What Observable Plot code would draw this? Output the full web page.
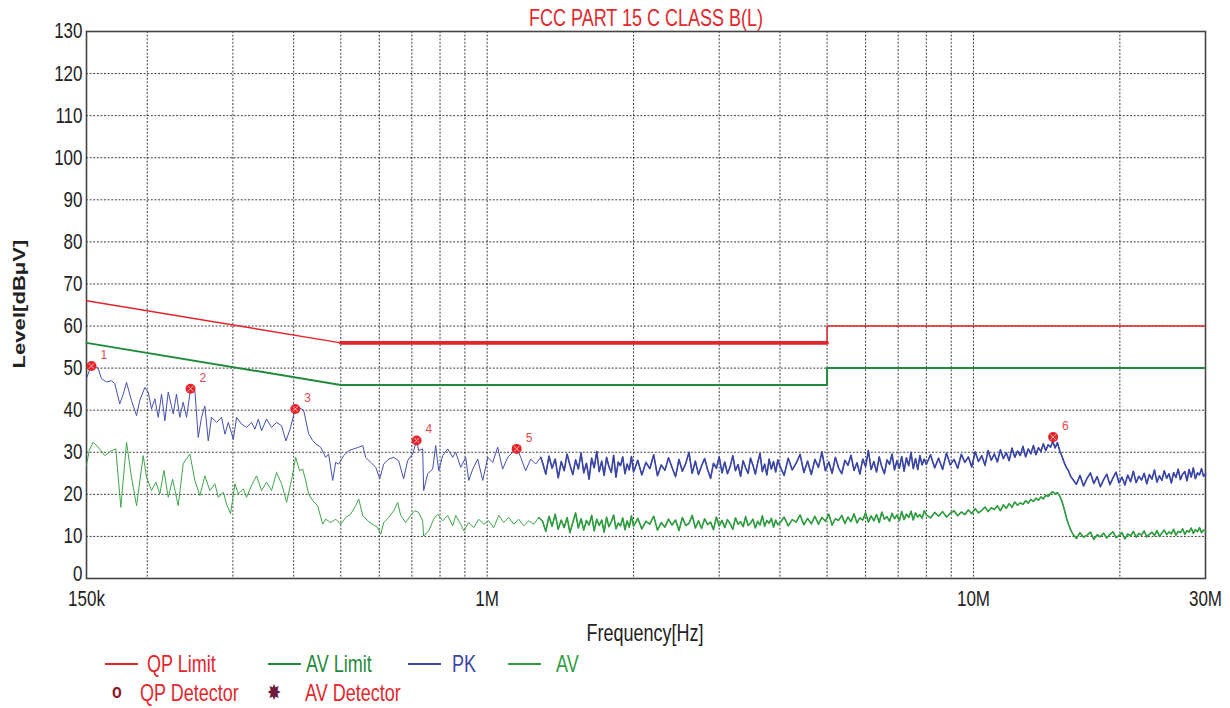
<!DOCTYPE html>
<html><head><meta charset="utf-8">
<script src="https://cdn.jsdelivr.net/npm/d3@7"></script>
<script src="https://cdn.jsdelivr.net/npm/@observablehq/plot@0.6"></script>
<style>
body{margin:0;background:#fff;}
#wrap{position:relative;width:1230px;height:708px;font-family:"Liberation Sans",Arial,sans-serif;overflow:hidden;}
.t{position:absolute;white-space:nowrap;font-size:18px;line-height:1;transform:translateY(-50%) scaleY(1.3);transform-origin:left center;}
.c{transform:translate(-50%,-50%) scaleY(1.3);transform-origin:center;}
.ln{position:absolute;height:2px;}
</style></head><body><div id="wrap"></div>
<script>
// ---- axis / tick data ----
const xTickValues = [150, 1000, 10000, 30000];          // kHz
const xTickLabels = ["150k", "1M", "10M", "30M"];
const yTickValues = [0,10,20,30,40,50,60,70,80,90,100,110,120,130];
const gridFreqs = [200,300,400,500,600,700,800,900,1000,2000,3000,4000,5000,6000,7000,8000,9000,10000,20000];
const gridLevels = [10,20,30,40,50,60,70,80,90,100,110,120];

// ---- limits [kHz, dBuV] ----
const qpLimit = [[150,66],[500,56],[5000,56],[5000,60],[30000,60]];
const avLimit = [[150,56],[500,46],[5000,46],[5000,50],[30000,50]];

// ---- detector markers ----
const markerFreqs = [153.6, 245.5, 403, 716, 1150, 14580];
const markerLevels = [50.5, 45.1, 40.3, 32.8, 30.8, 33.6];
const markerLabels = ["1","2","3","4","5","6"];

// ---- PK trace, low band (read point by point) ----
const pkLow = [[150,47.5],[153.6,51],[158.5,50],[161,47.5],[164.9,46.7],[168.9,47],[171.5,46.3],[175.6,41.5],[178.5,43.8],[181.3,46.6],[185.6,42.3],[190.1,38.7],[193,42.3],[197.7,45.4],[200.9,44.3],[204.1,40.3],[207.3,42.7],[210.7,38.3],[214,43.8],[217.4,37.5],[220.9,44.3],[226.2,39.1],[229.7,43.8],[233.3,38.3],[237.1,41.9],[240.9,38.3],[245.5,45],[250.6,44.6],[254.6,33.5],[258.6,38.3],[262.7,41],[267,32.7],[271.2,38.3],[277.7,37.1],[284.3,38.3],[288.9,34.3],[293.6,37.1],[300.6,33.1],[305.3,38.3],[312.6,36.7],[320,35.9],[327.7,37.1],[333,35.5],[338.4,37.9],[343.6,35.1],[351.9,37.9],[360.3,35.9],[368.9,37.1],[377.8,36.3],[385.6,32.7],[393.4,35.5],[403,40.3],[410,40.6],[419.4,40],[429.4,34.4],[437.7,32.8],[443.9,32],[454.6,31.2],[465.5,28.8],[472.1,29.6],[481.2,23.3],[488.1,27.6],[495.1,27.2],[507,29.2],[519.1,30.4],[531.5,30.8],[544.3,31.2],[554.7,31.6],[562.6,28.8],[576.1,27.6],[590,26.4],[601.3,23.7],[612.8,27.2],[627.4,28.4],[642.3,28.8],[657.6,28],[673.2,23.7],[686.2,28],[702.7,29.6],[716.2,32.8],[723,30.4],[736.8,30.8],[740.3,20.9],[754.5,24.9],[772.6,26],[783.7,31.6],[795,25.6],[810.2,29.2],[829.5,30.8],[849.4,28.8],[861.6,30],[882.3,26.4],[903.4,28.8],[916.4,23.3],[934,26],[956.3,28.4],[979.2,23.3],[1003,28.8],[1026.5,27.6],[1051,31.2],[1076,26],[1102,28.8],[1128,30],[1150,31.2],[1172,28.8],[1200,25.6],[1229,28.4],[1258,27.2],[1289,28.8]];

// ---- AV trace, low band ----
const avLow = [[150,26.9],[151.9,30.4],[154.8,32.4],[158.5,31.2],[163.6,29.2],[168.9,30.4],[172.3,30.8],[176.5,16.9],[181.3,32.4],[185.6,24.1],[190.1,17.3],[196.2,29.2],[199.3,24.1],[204.1,20.9],[208.3,22.9],[212.3,20.1],[216.4,25.7],[220.9,19.3],[225.5,23.6],[231.6,17.3],[237.1,27.3],[244.7,29.6],[250.6,23.3],[256.6,19.7],[262.7,24.4],[269,20.9],[275.5,22.5],[280,19.3],[286.7,20.5],[291.1,17.7],[296.7,15.4],[302.9,22.5],[307.8,20.1],[315.2,21.3],[320,19.3],[327.7,22.1],[335.6,24.4],[343.6,20.9],[351.9,22.9],[360.3,20.9],[368.9,25.2],[377.8,22.5],[386.9,18.1],[396.2,23.5],[403.7,28.8],[411.5,25.6],[417.5,26],[423.5,23.3],[429.4,20.1],[437.7,18.5],[448.2,17.3],[458.9,12.9],[465.5,14.1],[476.7,13.3],[488.1,14.1],[499.8,12.9],[511.8,14.5],[524,15.3],[536.6,17.3],[544.3,18.9],[554.7,15],[568,13.7],[581.6,12.9],[595.6,12.1],[604.1,10.5],[612.8,13.3],[627.4,14.5],[642.3,16.1],[654.5,18.1],[663.9,15],[679.7,13.3],[696,15],[709.4,16.1],[723,15.7],[736.8,13.7],[740.3,10.1],[758.1,11.3],[776.3,14.1],[791.3,15.3],[810.2,13.7],[829.5,15],[849.4,12.5],[861.6,15],[882.3,12.9],[895.3,11.3],[916.4,13.3],[938.4,12.1],[960.9,14.1],[983.9,12.9],[1007.6,13.7],[1031.6,12.1],[1056.4,15],[1081.6,13.3],[1107.6,14.5],[1134,12.9],[1161,14.1],[1189,12.5],[1218,13.7],[1247,12.9],[1276,14.5]];

// ---- dense sweep 1.3 MHz - 30 MHz ----
const sweepKHz = [
1300,1320,1340,1360,1380,1400,1420,1440,1460,1480,
1500,1520,1540,1560,1580,1600,1620,1640,1660,1680,
1700,1720,1740,1760,1780,1800,1820,1840,1860,1880,
1900,1920,1940,1960,1980,
2000,2040,2080,2120,2160,2200,2240,2280,2320,2360,
2400,2440,2480,2520,2560,2600,2640,2680,2720,2760,
2800,2840,2880,2920,2960,3000,3040,3080,3120,3160,
3200,3240,3280,3320,3360,3400,3440,3480,3520,3560,
3600,3640,3680,3720,3760,3800,3840,3880,3920,3960,
4000,4080,4160,4240,4320,4400,4480,4560,4640,4720,
4800,4880,4960,5040,5120,5200,5280,5360,5440,5520,
5600,5680,5760,5840,5920,6000,6080,6160,6240,6320,
6400,6480,6560,6640,6720,6800,6880,6960,7040,7120,
7200,7280,7360,7440,7520,7600,7680,7760,7840,7920,
8000,8160,8320,8480,8640,8800,8960,9120,9280,9440,
9600,9760,9920,10080,10240,10400,10560,10720,10880,11040,
11200,11360,11520,11680,11840,12000,12160,12320,12480,12640,
12800,12960,13120,13280,13440,13600,13760,13920,14080,14240,
14400,14560,14720,14880,15040,15200,15360,15520,15680,15840,
16000,16280,16560,16840,17120,17400,17680,17960,18240,18520,
18800,19080,19360,19640,19920,20200,20480,20760,21040,21320,
21600,21880,22160,22440,22720,23000,23280,23560,23840,24120,
24400,24680,24960,25240,25520,25800,26080,26360,26640,26920,
27200,27480,27760,28040,28320,28600,28880,29160,29440,29720,
30000];

const pkSweep = [
27.5,24.8,29.1,26.2,28.4,23.9,27.8,25.6,29.6,26.9,
24.7,28.2,26.0,29.8,25.1,27.4,23.6,28.6,26.3,30.2,
25.4,27.9,24.5,28.8,26.6,25.2,29.3,24.1,27.7,26.8,
28.9,24.9,27.2,25.8,29.0,
25.3,28.1,24.6,27.6,26.1,29.4,24.4,27.0,25.7,28.7,
26.4,24.2,28.3,25.5,27.3,30.0,25.0,27.9,24.7,26.8,
28.5,25.9,23.8,27.4,26.2,28.9,25.1,27.7,24.9,26.6,
29.2,25.6,27.1,24.3,28.0,26.3,25.0,28.6,26.9,24.8,
27.5,29.7,25.4,27.2,24.6,28.4,26.0,27.8,25.3,28.2,
26.7,24.5,28.6,25.8,27.4,29.5,25.2,27.9,24.7,28.3,
26.4,30.1,25.6,27.7,25.0,28.8,26.3,24.9,28.1,26.9,
29.3,25.7,27.5,24.8,28.4,26.6,30.4,25.9,27.8,25.3,
28.9,26.5,24.9,28.2,27.1,29.6,25.8,28.0,26.2,29.0,
25.5,28.7,26.8,30.0,26.1,28.5,25.9,29.2,27.0,28.4,
27.1,29.4,26.3,28.6,25.9,29.8,27.0,28.3,26.2,29.5,
27.6,28.9,26.5,30.1,27.8,29.2,26.9,30.4,28.1,29.6,
27.7,30.6,28.5,29.9,28.0,31.0,28.8,30.3,29.2,31.4,
28.9,30.8,29.6,31.6,29.4,31.1,30.2,32.0,30.4,31.8,
31.2,32.6,31.0,32.3,30.4,29.1,27.6,26.4,25.6,24.3,
23.6,22.4,24.5,22.0,23.8,25.1,22.6,24.2,21.8,23.5,
24.8,22.3,23.9,25.3,22.7,24.1,22.2,24.6,23.0,25.5,
22.8,24.3,23.4,25.0,22.5,24.7,23.6,25.8,22.9,24.4,
23.3,25.6,23.8,24.9,22.7,25.2,24.0,26.0,23.5,24.8,
25.4,23.2,25.9,24.1,26.3,23.7,25.1,24.6,26.1,24.3,
24.8];

const avSweep = [
13.6,11.2,14.8,12.4,15.3,11.7,13.9,12.1,14.5,10.9,
13.3,15.6,12.0,14.2,11.5,13.8,12.7,15.0,11.3,14.1,
12.6,13.9,11.0,14.6,12.3,13.5,15.1,11.8,13.2,12.5,
14.4,11.6,13.7,12.2,14.9,
12.4,14.3,11.8,13.6,12.9,14.8,11.5,13.3,12.2,14.1,
12.7,13.9,11.4,14.5,12.6,13.1,15.0,12.0,13.7,11.9,
14.2,12.8,13.4,11.6,14.6,12.5,13.8,12.1,14.0,13.0,
11.7,14.4,12.9,13.5,12.3,14.7,12.6,13.2,14.1,12.0,
13.6,12.7,14.9,12.4,13.8,13.1,14.3,12.2,13.9,12.8,
13.2,14.6,12.5,14.0,13.4,15.1,12.8,14.3,13.0,14.8,
12.9,14.5,13.6,15.3,12.7,14.2,13.8,15.0,13.1,14.6,
13.5,15.4,13.2,14.4,13.9,15.6,13.4,14.9,13.7,15.2,
13.3,15.8,14.1,14.7,13.6,15.5,14.2,15.1,13.8,15.9,
14.0,15.3,14.5,16.0,13.9,15.6,14.6,15.2,14.3,16.1,
15.1,14.4,15.7,14.8,15.9,14.6,15.5,16.1,14.9,15.8,
15.2,16.3,15.4,16.6,15.6,16.2,17.0,15.9,16.8,16.4,
17.3,16.1,17.5,16.7,17.8,16.9,18.2,17.4,18.0,17.6,
18.5,17.9,18.8,18.3,19.1,18.6,19.4,18.9,19.8,19.5,
20.2,20.6,20.1,20.4,19.6,18.4,16.6,14.5,12.9,11.6,
10.6,9.5,10.9,9.8,10.3,11.0,9.3,10.4,9.9,10.8,
9.6,10.5,11.1,9.7,10.2,10.9,9.4,10.6,10.1,11.2,
9.8,10.7,10.3,11.3,9.9,10.5,11.0,10.2,11.4,10.0,
10.8,11.5,10.4,11.1,10.6,11.7,10.3,11.2,10.9,11.8,
10.5,11.4,11.0,12.0,10.7,11.6,11.1,12.1,10.9,11.5,
11.3];

// ---- colours ----
const RED = "#e3242b", GREEN_LIM = "#1f8a3c", BLUE = "#3a46a6", GREEN = "#2f9c3f";

// ---- build tables ----
const pk = pkLow.concat(sweepKHz.map((f, i) => [f, pkSweep[i]]));
const av = avLow.concat(sweepKHz.map((f, i) => [f, avSweep[i]]));
const pkDense = pk.filter(d => d[0] >= 1289);
const avDense = av.filter(d => d[0] >= 1276);
const markers = markerFreqs.map((f, i) => ({f, level: markerLevels[i], label: markerLabels[i]}));
const qpThick = qpLimit.filter(d => d[0] >= 500 && d[0] <= 5000 && d[1] === 56);
const fx = d => d[0], fy = d => d[1];

const chart = Plot.plot({
  width: 1230, height: 708,
  marginLeft: 86, marginRight: 25, marginTop: 31, marginBottom: 130,
  style: {fontFamily: '"Liberation Sans", Arial, sans-serif', fontSize: "17px", color: "#222", background: "#fff", overflow: "visible"},
  x: {type: "log", domain: [150, 30000], ticks: xTickValues, tickFormat: d => xTickLabels[xTickValues.indexOf(d)], tickSize: 0, tickPadding: 12, label: null},
  y: {domain: [0, 130], ticks: yTickValues, tickSize: 0, tickPadding: 4, label: null},
  marks: [
    Plot.ruleX(gridFreqs, {stroke: "#111", strokeOpacity: 0.8, strokeDasharray: "2,1.6", strokeWidth: 1}),
    Plot.ruleY(gridLevels, {stroke: "#111", strokeOpacity: 0.8, strokeDasharray: "2,1.6", strokeWidth: 1}),
    Plot.frame({stroke: "#444", strokeWidth: 1.6}),
    Plot.line(qpLimit, {x: fx, y: fy, stroke: RED, strokeWidth: 1.5}),
    Plot.line(qpThick, {x: fx, y: fy, stroke: RED, strokeWidth: 3.6}),
    Plot.line(avLimit, {x: fx, y: fy, stroke: GREEN_LIM, strokeWidth: 2}),
    Plot.line(av, {x: fx, y: fy, stroke: "#3fa64c", strokeWidth: 1}),
    Plot.line(avDense, {x: fx, y: fy, stroke: GREEN, strokeWidth: 1.6}),
    Plot.line(pk, {x: fx, y: fy, stroke: "#4450ad", strokeWidth: 1}),
    Plot.line(pkDense, {x: fx, y: fy, stroke: BLUE, strokeWidth: 1.6}),
    Plot.dot(markers, {x: "f", y: "level", r: 5, fill: RED}),
    Plot.dot(markers, {x: "f", y: "level", r: 2.6, symbol: "times", stroke: "#ffb0b0", strokeWidth: 1}),
    Plot.text(markers, {x: "f", y: "level", text: "label", dx: 9, dy: -11, fill: "#e5484d", fontSize: 12, textAnchor: "start"})
  ]
});

// stretch tick labels vertically like the reference's tall, narrow type
chart.querySelectorAll('[aria-label*="axis"] text').forEach(t => {
  const x = parseFloat(t.getAttribute("x")) || 0, y = parseFloat(t.getAttribute("y")) || 0;
  const tr = t.getAttribute("transform") || "";
  const lift = (t.textContent === "0" && (t.closest('[aria-label^="y-axis"]'))) ? " translate(0,-4)" : "";
  t.setAttribute("transform", `${tr}${lift} translate(${x},${y}) scale(1,1.3) translate(${-x},${-y})`);
});

const wrap = document.getElementById("wrap");
wrap.appendChild(chart);
chart.style.position = "absolute"; chart.style.left = "0"; chart.style.top = "0";

function addText(txt, left, top, color, cls, extra) {
  const d = document.createElement("div");
  d.className = "t" + (cls ? " " + cls : "");
  d.textContent = txt;
  d.style.left = left + "px"; d.style.top = top + "px"; d.style.color = color;
  if (extra) Object.assign(d.style, extra);
  wrap.appendChild(d);
}
function addLine(left, top, width, color) {
  const d = document.createElement("div");
  d.className = "ln";
  d.style.left = left + "px"; d.style.top = top + "px"; d.style.width = width + "px"; d.style.background = color;
  wrap.appendChild(d);
}

// title and axis titles
addText("FCC PART 15 C CLASS B(L)", 646, 18, "#e0282d", "c");
addText("Frequency[Hz]", 645, 633, "#222", "c");
addText("Level[dBμV]", 19, 304, "#222", null, {transform: "translate(-50%,-50%) rotate(-90deg) scaleX(1.3)", transformOrigin: "center", fontWeight: "bold", fontSize: "17px"});

// legend
const legendRow1 = [
  {label: "QP Limit", color: RED, line: [105, 33], text: 147},
  {label: "AV Limit", color: GREEN_LIM, line: [268, 33], text: 306},
  {label: "PK", color: BLUE, line: [408, 33], text: 452},
  {label: "AV", color: GREEN, line: [508, 33], text: 556}
];
legendRow1.forEach(d => { addLine(d.line[0], 663, d.line[1], d.color); addText(d.label, d.text, 664, d.color); });
addText("o", 112, 692, "#8a1c2c", null, {fontWeight: "bold", fontSize: "16px"});
addText("QP Detector", 140, 693, "#e0282d");
addText("✸", 267, 693, "#6e1a3c", null, {fontSize: "17px"});
addText("AV Detector", 305, 693, "#e0282d");
</script></body></html>
